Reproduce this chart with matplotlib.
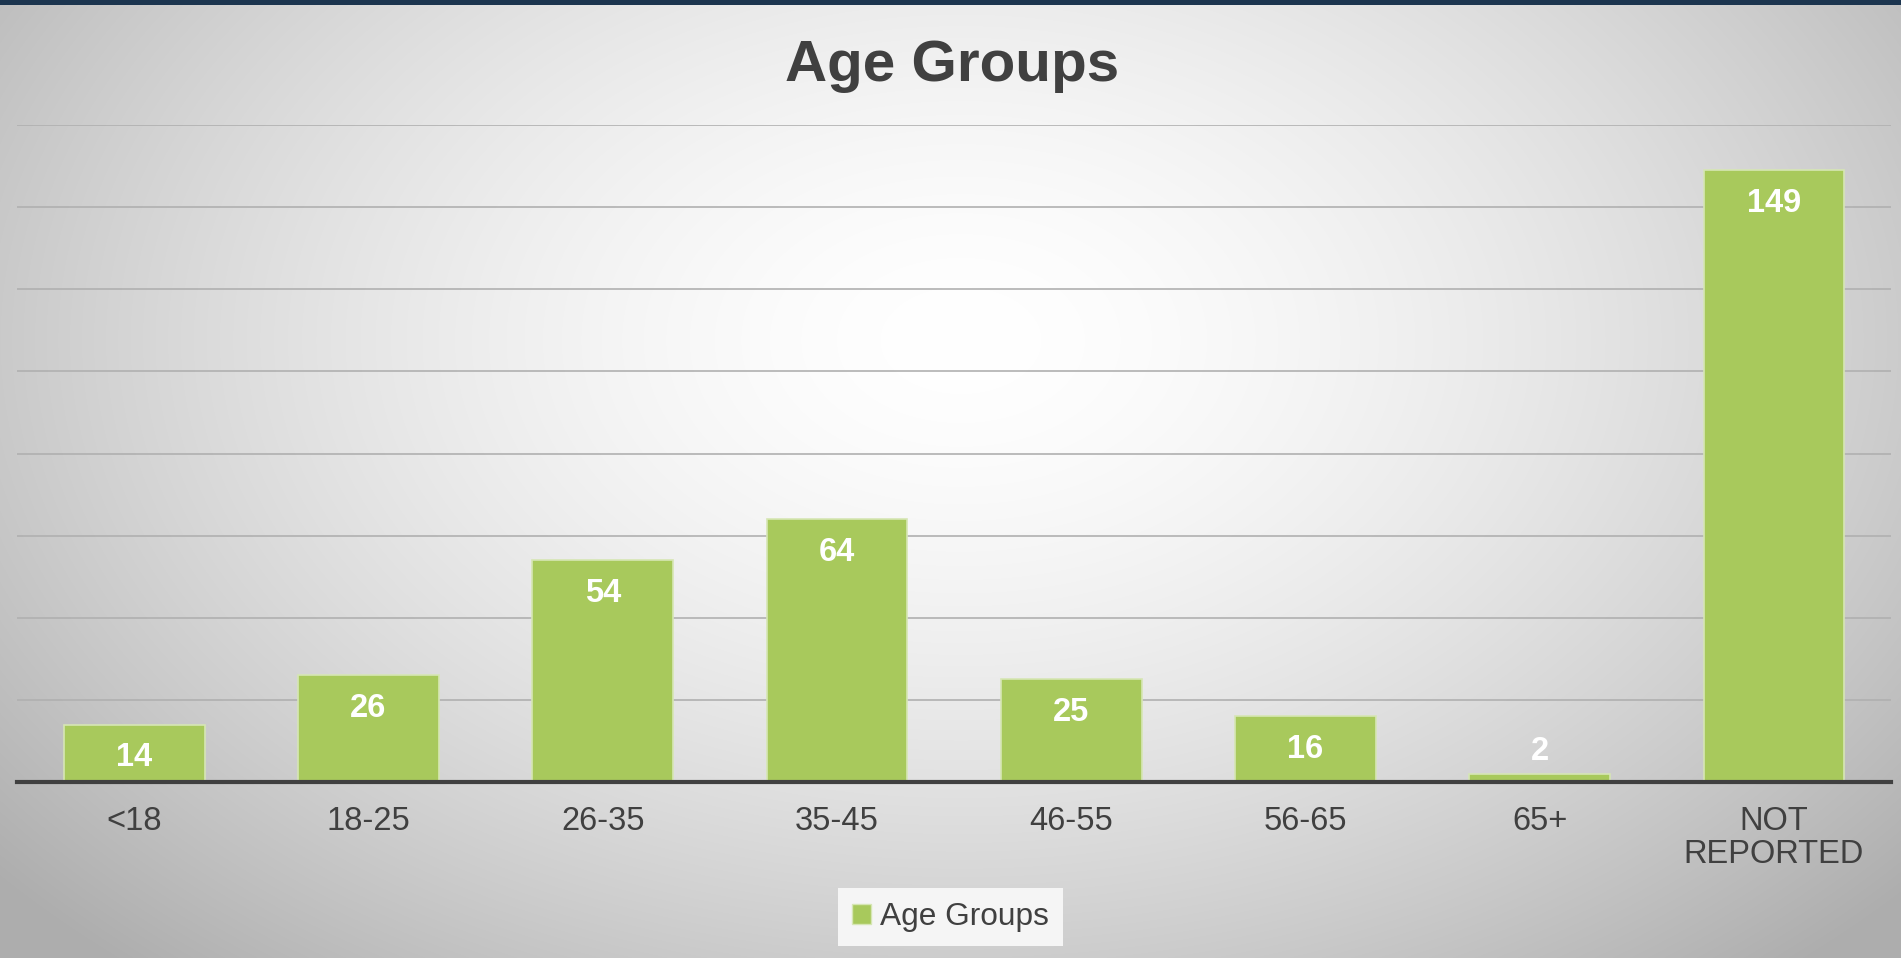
""" Age Groups bar chart """

import numpy as np
import matplotlib.pyplot as plt
from matplotlib.patches import Patch

plt.rcParams['font.family'] = ['Liberation Sans', 'DejaVu Sans']

# data
groups = ["<18", "18-25", "26-35", "35-45", "46-55", "56-65", "65+", "NOT\nREPORTED"]
counts = [14, 26, 54, 64, 25, 16, 2, 149]

bar_color = "#a8c95c"
text_gray = "#404040"

fig = plt.figure(figsize=(19.01, 9.58), dpi=100)

# background: soft radial gradient + dark band on top
bg = fig.add_axes([0, 0, 1, 1], zorder=-10)
h, w = 958, 1901
yy, xx = np.mgrid[0:h, 0:w]
r = np.sqrt(((xx - 960) / 1050.0) ** 2 + ((yy - 340) / 700.0) ** 2)
shade = 1.0 - 0.24 * np.clip(r, 0, 1.2) ** 1.6
img = np.dstack([shade, shade, shade])
img[:5, :, :] = [0.11, 0.21, 0.31]
bg.imshow(img, aspect="auto", extent=[0, 1, 0, 1], origin="upper")
bg.axis("off")

ax = fig.add_axes([0.009, 0.1837, 0.9858, 0.6858])
ax.patch.set_alpha(0)

x = np.arange(len(groups))
ax.bar(x, counts, width=0.6, color=bar_color, edgecolor="#d6e6b4", linewidth=1.2, zorder=3)

ax.set_xlim(-0.5, len(groups) - 0.5)
ax.set_ylim(0, 160)
ax.set_yticks(np.arange(20, 161, 20))
ax.yaxis.grid(True, color="#b0b0b0", linewidth=1.2, zorder=0)
ax.set_yticklabels([])
ax.tick_params(axis="y", length=0)

for s in ["top", "right", "left"]:
    ax.spines[s].set_visible(False)
ax.spines["bottom"].set_color(text_gray)
ax.spines["bottom"].set_linewidth(3)
ax.spines["bottom"].set_zorder(4)

ax.set_xticks(x)
ax.set_xticklabels(groups, fontsize=23.5, color=text_gray, linespacing=1.1)
ax.tick_params(axis="x", length=0, pad=17)

# value labels
for xi, v in zip(x, counts):
    if v >= 10:
        ax.annotate(str(v), (xi, v), xytext=(0, -24), textcoords="offset points",
                    ha="center", va="center", color="white", fontsize=23.5,
                    fontweight="bold", zorder=5)
    else:
        ax.annotate(str(v), (xi, v), xytext=(0, 16), textcoords="offset points",
                    ha="center", va="center", color="white", fontsize=23.5,
                    fontweight="bold", zorder=5)

fig.text(0.501, 0.931, "Age Groups", ha="center", va="center",
         fontsize=42, fontweight="bold", color=text_gray)

handle = Patch(facecolor=bar_color, edgecolor="#d6e6b4")
leg = fig.legend([handle], ["Age Groups"], loc="center", bbox_to_anchor=(0.5, 0.043),
                 fontsize=22.8, frameon=True, fancybox=False, handlelength=0.6,
                 handleheight=0.6, handletextpad=0.3, borderpad=0.45)
leg.get_frame().set_facecolor("#f5f5f5")
leg.get_frame().set_edgecolor("none")
leg.get_frame().set_alpha(1)
for t in leg.get_texts():
    t.set_color(text_gray)

fig.savefig("out.png", dpi=100)
